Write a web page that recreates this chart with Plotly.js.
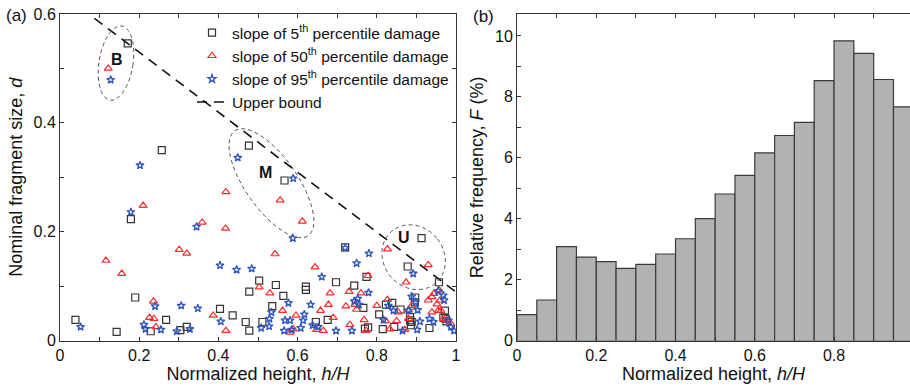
<!DOCTYPE html>
<html>
<head>
<meta charset="utf-8">
<script src="https://cdn.plot.ly/plotly-3.0.1.min.js"></script>
<style>html,body{margin:0;padding:0;background:#fff;}#chart{width:910px;height:389px;}</style>
</head>
<body>
<div id="chart"></div>
<script>
// ---------- Panel (a) data ----------
const sq_x = [0.171,0.257,0.179,0.477,0.567,0.913,0.720,0.039,0.143,0.190,0.229,0.268,0.304,0.320,0.404,0.436,0.469,0.478,0.478,0.503,0.511,0.536,0.545,0.564,0.621,0.621,0.646,0.676,0.697,0.743,0.766,0.770,0.778,0.774,0.806,0.815,0.823,0.839,0.844,0.860,0.878,0.884,0.886,0.897,0.933,0.957,0.972,0.968,0.974,0.896,0.884,0.888,0.976];
const sq_y = [0.546,0.350,0.223,0.358,0.294,0.188,0.171,0.038,0.016,0.079,0.017,0.038,0.019,0.025,0.058,0.046,0.034,0.018,0.090,0.110,0.034,0.063,0.102,0.082,0.099,0.093,0.034,0.038,0.107,0.101,0.060,0.022,0.024,0.117,0.048,0.021,0.066,0.069,0.025,0.057,0.136,0.037,0.028,0.079,0.023,0.107,0.055,0.042,0.040,0.070,0.043,0.034,0.035];

const tri_x = [0.122,0.210,0.359,0.419,0.418,0.556,0.612,0.301,0.320,0.543,0.827,0.930,0.116,0.156,0.236,0.226,0.237,0.242,0.387,0.419,0.644,0.503,0.530,0.562,0.596,0.581,0.589,0.658,0.678,0.682,0.690,0.722,0.730,0.749,0.760,0.768,0.773,0.800,0.833,0.854,0.874,0.880,0.888,0.930,0.939,0.944,0.957,0.968,0.976,0.960,0.955,0.665,0.732,0.745,0.648,0.778,0.827,0.880,0.822,0.850,0.871,0.939,0.952,0.962,0.987];
const tri_y = [0.500,0.248,0.217,0.273,0.206,0.258,0.219,0.167,0.160,0.159,0.168,0.139,0.147,0.123,0.072,0.042,0.040,0.025,0.046,0.018,0.135,0.098,0.087,0.055,0.046,0.015,0.021,0.055,0.066,0.087,0.042,0.063,0.090,0.057,0.087,0.038,0.018,0.064,0.021,0.052,0.107,0.040,0.064,0.074,0.052,0.086,0.093,0.040,0.037,0.074,0.055,0.018,0.029,0.066,0.020,0.119,0.075,0.056,0.036,0.036,0.020,0.080,0.067,0.055,0.031];

const st_x = [0.128,0.202,0.179,0.345,0.449,0.589,0.588,0.720,0.780,0.052,0.212,0.216,0.240,0.255,0.295,0.306,0.328,0.348,0.404,0.406,0.446,0.484,0.508,0.528,0.529,0.534,0.568,0.566,0.577,0.581,0.585,0.608,0.614,0.617,0.633,0.638,0.652,0.661,0.697,0.749,0.743,0.752,0.755,0.779,0.737,0.817,0.829,0.842,0.865,0.880,0.888,0.892,0.898,0.903,0.909,0.902,0.933,0.943,0.955,0.968,0.970,0.981,0.987,0.995];
const st_y = [0.479,0.322,0.236,0.209,0.336,0.298,0.188,0.170,0.160,0.025,0.029,0.021,0.063,0.020,0.017,0.064,0.021,0.059,0.138,0.035,0.130,0.132,0.023,0.026,0.040,0.052,0.037,0.018,0.069,0.037,0.020,0.023,0.037,0.048,0.066,0.028,0.025,0.117,0.018,0.142,0.072,0.077,0.066,0.088,0.018,0.038,0.064,0.055,0.018,0.055,0.081,0.123,0.071,0.056,0.035,0.020,0.040,0.034,0.091,0.083,0.074,0.037,0.025,0.018];

const ub_x = [0.087, 1.0];
const ub_y = [0.592, 0.089];

const seriesNames = ['slope of 5<sup>th</sup> percentile damage','slope of 50<sup>th</sup> percentile damage','slope of 95<sup>th</sup> percentile damage','Upper bound'];

// ---------- Panel (b) data ----------
const binStart = [0,0.05,0.10,0.15,0.20,0.25,0.30,0.35,0.40,0.45,0.50,0.55,0.60,0.65,0.70,0.75,0.80,0.85,0.90,0.95];
const relFreq  = [0.85,1.33,3.08,2.74,2.59,2.37,2.50,2.84,3.34,4.00,4.81,5.42,6.16,6.73,7.16,8.53,9.84,9.43,8.57,7.67];
const binWidth = 0.05;

// ---------- layout geometry ----------
const W = 910, H = 389;
const domA = [60/W, 456/W];
const domB = [517/W, 1];
const domY = [(H-340.5)/H, (H-14)/H];
const rangeAx = [0,1], rangeAy = [0,0.6];
const rangeBx = [0, (910-517.3)/396], rangeBy = [0, 10.72];

const pxPerX = (domA[1]-domA[0])*W/(rangeAx[1]-rangeAx[0]);
const pxPerY = (domY[1]-domY[0])*H/(rangeAy[1]-rangeAy[0]);

function ellipsePath(cx, cy, a, b, phiDeg){
  const phi = phiDeg*Math.PI/180;
  let d = '';
  const n = 72;
  for(let i=0;i<=n;i++){
    const t = 2*Math.PI*i/n;
    const u = b*Math.cos(t), v = a*Math.sin(t);
    const dx = u*Math.cos(phi) + v*Math.sin(phi);
    const dy = -u*Math.sin(phi) + v*Math.cos(phi);
    const x = cx + dx/pxPerX, y = cy + dy/pxPerY;
    d += (i===0?'M':'L') + x.toFixed(5) + ',' + y.toFixed(5) + ' ';
  }
  return d + 'Z';
}

const font = 'Arial, "Liberation Sans", sans-serif';
const axisCol = '#333';
const titleFont = {family:font, size:18, color:'#111'};

const traces = [
  {x: sq_x, y: sq_y, type:'scatter', mode:'markers', name: seriesNames[0], xaxis:'x', yaxis:'y',
   marker:{symbol:'square-open', size:7, color:'#333', line:{width:1.2}}},
  {x: tri_x, y: tri_y, type:'scatter', mode:'markers', name: seriesNames[1], xaxis:'x', yaxis:'y',
   marker:{symbol:'triangle-up-open', size:7, color:'#ff2a2a', line:{width:1.2}}},
  {x: st_x, y: st_y, type:'scatter', mode:'markers', name: seriesNames[2], xaxis:'x', yaxis:'y',
   marker:{symbol:'star-open', size:6, color:'#2f56c0', line:{width:1.3}}},
  {x: ub_x, y: ub_y, type:'scatter', mode:'lines', name: seriesNames[3], xaxis:'x', yaxis:'y',
   line:{color:'#111', width:1.6, dash:'10px,7px'}},
  {x: binStart, y: relFreq, type:'bar', width: binWidth, offset: 0, xaxis:'x2', yaxis:'y2', showlegend:false,
   marker:{color:'#b1b3b0', line:{color:'#3a3a3a', width:1.2}}}
];

const axBase = {
  showline:true, linecolor:axisCol, linewidth:1, mirror:'ticks',
  ticks:'inside', ticklen:4, tickcolor:axisCol, showgrid:false, zeroline:false,
  tickfont:{family:font, size:16, color:'#111'}
};

const layout = {
  width:W, height:H, margin:{l:0,r:0,t:0,b:0},
  paper_bgcolor:'#fff', plot_bgcolor:'#fff',
  font:{family:font, size:15, color:'#111'},
  bargap:0,
  xaxis: Object.assign({}, axBase, {domain:domA, range:rangeAx, dtick:0.2, tickformat:'~g',
    minor:{dtick:0.1, ticks:'inside', ticklen:4, tickcolor:axisCol},
    title:{text:'Normalized height, <i>h/H</i>', font:titleFont, standoff:0}}),
  yaxis: Object.assign({}, axBase, {domain:domY, range:rangeAy, dtick:0.2, tickformat:'~g',
    minor:{dtick:0.1, ticks:'inside', ticklen:4, tickcolor:axisCol},
    title:{text:'Nominal fragment size, <i>d</i>', font:titleFont, standoff:6}}),
  xaxis2: Object.assign({}, axBase, {domain:domB, range:rangeBx, dtick:0.2, tickformat:'~g', anchor:'y2',
    minor:{dtick:0.1, ticks:'inside', ticklen:4, tickcolor:axisCol},
    title:{text:'Normalized height, <i>h/H</i>', font:titleFont, standoff:0}}),
  yaxis2: Object.assign({}, axBase, {domain:domY, range:rangeBy, dtick:2, anchor:'x2', mirror:false,
    minor:{dtick:1, ticks:'inside', ticklen:4, tickcolor:axisCol},
    title:{text:'Relative frequency, <i>F</i> (%)', font:titleFont, standoff:6}}),
  legend:{x:192/W, y:(H-16)/H, xanchor:'left', yanchor:'top', bgcolor:'rgba(0,0,0,0)',
    font:{family:font, size:15.5, color:'#111'}, tracegroupgap:0, itemwidth:30},
  shapes:[
    {type:'path', xref:'x', yref:'y', path: ellipsePath(0.1414,0.5098,37.5,17,9), line:{color:'#555',width:1,dash:'4px,3px'}},
    {type:'path', xref:'x', yref:'y', path: ellipsePath(0.534,0.289,64,26,-35), line:{color:'#555',width:1,dash:'4px,3px'}},
    {type:'path', xref:'x', yref:'y', path: ellipsePath(0.893,0.153,34,30,-40), line:{color:'#555',width:1,dash:'4px,3px'}}
  ],
  annotations:[
    {xref:'x', yref:'y', x:0.144, y:0.517, text:'<b>B</b>', showarrow:false, font:{family:font,size:16,color:'#111'}},
    {xref:'x', yref:'y', x:0.518, y:0.309, text:'<b>M</b>', showarrow:false, font:{family:font,size:16,color:'#111'}},
    {xref:'x', yref:'y', x:0.869, y:0.190, text:'<b>U</b>', showarrow:false, font:{family:font,size:16,color:'#111'}},
    {xref:'paper', yref:'paper', x:4/W, y:(H-15)/H, xanchor:'left', yanchor:'middle', text:'(a)', showarrow:false, font:{family:font,size:17,color:'#111'}},
    {xref:'paper', yref:'paper', x:471/W, y:(H-17)/H, xanchor:'left', yanchor:'middle', text:'(b)', showarrow:false, font:{family:font,size:17,color:'#111'}}
  ]
};

Plotly.newPlot('chart', traces, layout, {displayModeBar:false, staticPlot:true});
</script>
</body>
</html>
